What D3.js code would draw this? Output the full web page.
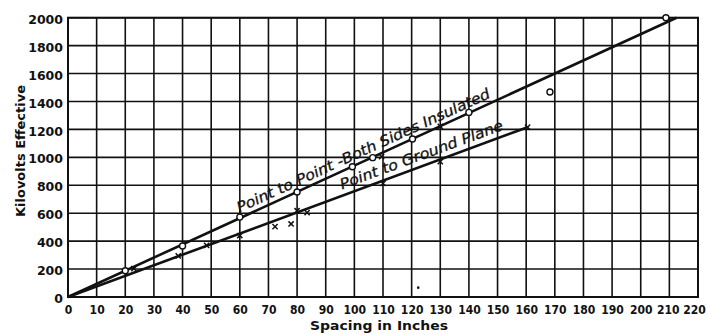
<!DOCTYPE html>
<html>
<head>
<meta charset="utf-8">
<script src="https://cdn.jsdelivr.net/npm/d3@7"></script>
<style>
  html, body { margin: 0; padding: 0; background: #fff; }
  svg { display: block; }
</style>
</head>
<body>
<svg id="chart" width="706" height="335"></svg>
<script>
// ---- data ----
const xTickValues = [0,10,20,30,40,50,60,70,80,90,100,110,120,130,140,150,160,170,180,190,200,210,220];
const yTickValues = [0,200,400,600,800,1000,1200,1400,1600,1800,2000];

// fitted lines
const bothSidesLineX = [0, 212.5];
const bothSidesLineY = [0, 2000];
const groundLineX = [0, 160.5];
const groundLineY = [0, 1216];

// circle points: point to point, both sides insulated
const bothSidesX = [20, 40, 60, 80, 99.3, 106.4, 120.3, 140, 168.3, 208.8];
const bothSidesY = [188, 365, 572, 752, 933, 998, 1131, 1322, 1468, 2000];

// cross points: point to ground plane
const groundX = [23, 38.5, 48.4, 60, 72.3, 77.9, 80, 83.5, 109.5, 110, 130, 130, 160.5];
const groundY = [203, 294, 370, 440, 504, 523, 618, 604, 1005, 814, 969, 1222, 1216];

// stray dot in the scan
const strayX = [122.3];
const strayY = [67];

const labelTop = "Point to Point -Both Sides Insulated";
const labelBottom = "Point to Ground Plane";
const yTitle = "Kilovolts Effective";
const xTitle = "Spacing in Inches";

// ---- layout ----
const svg = d3.select("#chart");
const x = d3.scaleLinear().domain([0, 220]).range([68, 698]);
const y = d3.scaleLinear().domain([0, 2000]).range([297, 17.7]);

const ink = "#111";
const tickFont = "'DejaVu Sans', sans-serif";
const condFont = "'DejaVu Sans Condensed', 'DejaVu Sans', sans-serif";

// grid
const g = svg.append("g");
g.selectAll("line.vx").data(xTickValues).enter().append("line")
  .attr("x1", d => x(d)).attr("x2", d => x(d))
  .attr("y1", y(0)).attr("y2", y(2000))
  .attr("stroke", ink).attr("stroke-width", 1.6);
g.selectAll("line.hy").data(yTickValues).enter().append("line")
  .attr("x1", x(0)).attr("x2", x(220))
  .attr("y1", d => y(d)).attr("y2", d => y(d))
  .attr("stroke", ink).attr("stroke-width", 1.6);
svg.append("rect")
  .attr("x", x(0)).attr("y", y(2000))
  .attr("width", x(220) - x(0)).attr("height", y(0) - y(2000))
  .attr("fill", "none").attr("stroke", ink).attr("stroke-width", 2);

// axes (labels only)
const nX = xTickValues.length;
const xAxis = d3.axisBottom(x).tickValues(xTickValues).tickFormat(d3.format("d"))
  .tickSize(0).tickPadding(8);
const xa = svg.append("g").attr("transform", `translate(0,${y(0)})`).call(xAxis);
xa.select(".domain").remove();
xa.selectAll("text").attr("font-family", condFont).attr("font-weight", "bold")
  .attr("font-size", 12).attr("fill", ink)
  .attr("dx", (d, i) => i === nX - 1 ? -4 : (i === nX - 2 ? -1.5 : 0));

const yAxis = d3.axisLeft(y).tickValues(yTickValues).tickFormat(d3.format("d"))
  .tickSize(0).tickPadding(5);
const ya = svg.append("g").attr("transform", `translate(${x(0)},0)`).call(yAxis);
ya.select(".domain").remove();
ya.selectAll("text").attr("font-family", tickFont).attr("font-weight", "bold")
  .attr("font-size", 12.5).attr("fill", ink).attr("dy", "0.45em");

// axis titles
svg.append("text")
  .attr("transform", `translate(25,151) rotate(-90)`)
  .attr("text-anchor", "middle")
  .attr("font-family", tickFont).attr("font-weight", "bold").attr("font-size", 13)
  .attr("fill", ink)
  .attr("textLength", 132).attr("lengthAdjust", "spacingAndGlyphs")
  .text(yTitle);
svg.append("text")
  .attr("x", 379).attr("y", 330)
  .attr("text-anchor", "middle")
  .attr("font-family", tickFont).attr("font-weight", "bold").attr("font-size", 13)
  .attr("fill", ink)
  .attr("textLength", 138).attr("lengthAdjust", "spacingAndGlyphs")
  .text(xTitle);

// lines
const lineGen = d3.line().x(d => x(d[0])).y(d => y(d[1]));
svg.append("path")
  .attr("d", lineGen(d3.zip(bothSidesLineX, bothSidesLineY)))
  .attr("stroke", ink).attr("stroke-width", 2.6).attr("fill", "none");
svg.append("path")
  .attr("d", lineGen(d3.zip(groundLineX, groundLineY)))
  .attr("stroke", ink).attr("stroke-width", 2.6).attr("fill", "none");

// cross markers
const crossSize = 2.6;
const crosses = svg.append("g");
d3.zip(groundX, groundY).forEach(([vx, vy]) => {
  const cx = x(vx), cy = y(vy);
  crosses.append("path")
    .attr("d", `M${cx-crossSize},${cy-crossSize}L${cx+crossSize},${cy+crossSize}M${cx-crossSize},${cy+crossSize}L${cx+crossSize},${cy-crossSize}`)
    .attr("stroke", ink).attr("stroke-width", 1.5);
});

// circle markers
svg.append("g").selectAll("circle").data(d3.zip(bothSidesX, bothSidesY)).enter().append("circle")
  .attr("cx", d => x(d[0])).attr("cy", d => y(d[1])).attr("r", 3)
  .attr("fill", "#fff").attr("stroke", ink).attr("stroke-width", 1.4);

// stray dot
svg.append("g").selectAll("circle").data(d3.zip(strayX, strayY)).enter().append("circle")
  .attr("cx", d => x(d[0])).attr("cy", d => y(d[1])).attr("r", 1.3).attr("fill", ink);

// rotated labels along lines
function lineLabel(txt, lx, ly, startX, offset, len) {
  const x0 = x(lx[0]), y0 = y(ly[0]), x1 = x(lx[1]), y1 = y(ly[1]);
  const ang = Math.atan2(y1 - y0, x1 - x0);
  const t = (startX - lx[0]) / (lx[1] - lx[0]);
  const px = x0 + t * (x1 - x0), py = y0 + t * (y1 - y0);
  const nx = Math.sin(ang) * offset, ny = -Math.cos(ang) * offset;
  svg.append("text")
    .attr("transform", `translate(${px + nx},${py + ny}) rotate(${ang * 180 / Math.PI})`)
    .attr("font-family", "'DejaVu Sans', sans-serif").attr("font-style", "italic")
    .attr("font-size", 14.5).attr("fill", ink)
    .attr("stroke", ink).attr("stroke-width", 0.3)
    .attr("textLength", len).attr("lengthAdjust", "spacingAndGlyphs")
    .text(txt);
}
lineLabel(labelTop, bothSidesLineX, bothSidesLineY, 60.6, 5, 277);
lineLabel(labelBottom, groundLineX, groundLineY, 96.4, 6, 173);
</script>
</body>
</html>
